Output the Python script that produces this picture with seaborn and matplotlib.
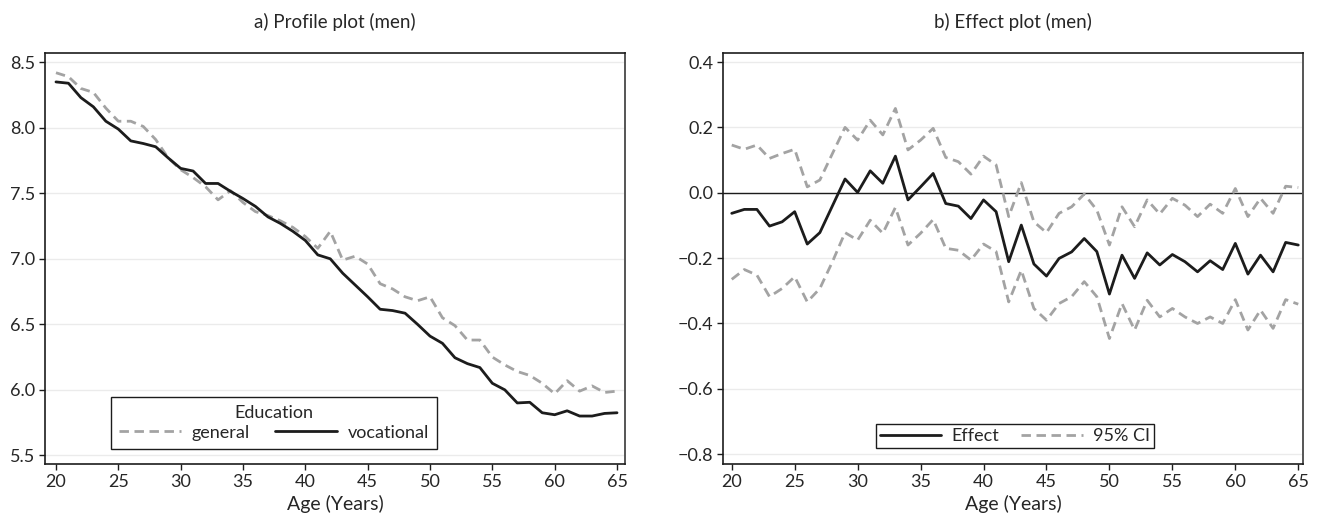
import numpy as np
import pandas as pd
import matplotlib
matplotlib.use('Agg')
import matplotlib.pyplot as plt
import seaborn as sns

# data
ages = list(range(20, 66))
general = [8.42, 8.39, 8.30, 8.27, 8.15, 8.05, 8.05, 8.01, 7.91, 7.77,
           7.68, 7.62, 7.55, 7.45, 7.52, 7.43, 7.36, 7.33, 7.29, 7.24,
           7.17, 7.08, 7.21, 6.99, 7.02, 6.96, 6.81, 6.77, 6.71, 6.68,
           6.71, 6.55, 6.49, 6.38, 6.38, 6.25, 6.19, 6.14, 6.11, 6.05,
           5.97, 6.07, 5.99, 6.03, 5.98, 5.99]
vocational = [8.35, 8.34, 8.23, 8.16, 8.05, 7.99, 7.90, 7.88, 7.855, 7.77,
              7.69, 7.67, 7.575, 7.575, 7.515, 7.46, 7.40, 7.32, 7.27, 7.21,
              7.14, 7.03, 7.00, 6.89, 6.80, 6.71, 6.615, 6.605, 6.585, 6.50,
              6.41, 6.355, 6.245, 6.20, 6.17, 6.05, 6.00, 5.90, 5.905, 5.825,
              5.81, 5.84, 5.80, 5.80, 5.82, 5.825]
effect = [-0.063, -0.051, -0.051, -0.102, -0.089, -0.058, -0.157, -0.122, -0.040, 0.042,
          0.001, 0.067, 0.029, 0.112, -0.022, 0.018, 0.059, -0.033, -0.041, -0.079,
          -0.022, -0.058, -0.211, -0.099, -0.218, -0.255, -0.201, -0.181, -0.140, -0.180,
          -0.310, -0.191, -0.262, -0.184, -0.221, -0.189, -0.211, -0.242, -0.208, -0.235,
          -0.155, -0.249, -0.191, -0.242, -0.152, -0.160]
ci_upper = [0.146, 0.133, 0.146, 0.105, 0.120, 0.133, 0.018, 0.039, 0.120, 0.200,
            0.161, 0.222, 0.177, 0.258, 0.131, 0.161, 0.197, 0.108, 0.095, 0.057,
            0.112, 0.085, -0.073, 0.031, -0.089, -0.122, -0.063, -0.043, -0.004, -0.053,
            -0.160, -0.043, -0.104, -0.022, -0.065, -0.017, -0.038, -0.073, -0.035, -0.063,
            0.013, -0.073, -0.017, -0.063, 0.020, 0.016]
ci_lower = [-0.265, -0.235, -0.252, -0.318, -0.293, -0.257, -0.334, -0.293, -0.211, -0.122,
            -0.145, -0.084, -0.124, -0.045, -0.160, -0.124, -0.082, -0.170, -0.176, -0.206,
            -0.157, -0.180, -0.334, -0.237, -0.354, -0.390, -0.339, -0.318, -0.272, -0.318,
            -0.446, -0.339, -0.420, -0.329, -0.380, -0.354, -0.380, -0.400, -0.380, -0.400,
            -0.327, -0.420, -0.359, -0.415, -0.327, -0.341]

x_ticks = [20, 25, 30, 35, 40, 45, 50, 55, 60, 65]
left_yticks = [5.5, 6.0, 6.5, 7.0, 7.5, 8.0, 8.5]
right_yticks = [-0.8, -0.6, -0.4, -0.2, 0.0, 0.2, 0.4]

sns.set_style('white')
plt.rcParams['font.family'] = ['Lato', 'DejaVu Sans']

BLACK = '#1c1c1c'
GRAY = '#a3a3a3'
DASH = (0, (3.4, 2.0))
LW = 2.0

df = pd.DataFrame({'age': ages, 'general': general, 'vocational': vocational,
                   'effect': effect, 'upper': ci_upper, 'lower': ci_lower})

fig = plt.figure(figsize=(13.18, 5.22), dpi=100)
ax1 = fig.add_axes([45 / 1318, 58 / 522, 580 / 1318, 411.3 / 522])
ax2 = fig.add_axes([723.3 / 1318, 58 / 522, 580 / 1318, 411.3 / 522])

# a) profile plot
sns.lineplot(data=df, x='age', y='general', ax=ax1, color=GRAY, linewidth=LW,
             linestyle=DASH, label='general')
sns.lineplot(data=df, x='age', y='vocational', ax=ax1, color=BLACK, linewidth=LW,
             label='vocational')
ax1.set_xlim(19.12, 65.64)
ax1.set_ylim(5.434, 8.573)
ax1.set_yticks(left_yticks)
ax1.set_yticklabels([f'{v:.1f}' for v in left_yticks])
leg1 = ax1.legend(title='Education', ncol=2, loc='lower center',
                  bbox_to_anchor=(0.395, 0.015), fontsize=13, title_fontsize=13,
                  handlelength=3.4, columnspacing=1.4, handletextpad=0.6,
                  borderpad=0.45, labelspacing=0.2, fancybox=False, framealpha=1)
ax1.set_title('a) Profile plot (men)', fontsize=13.5, pad=18)

# b) effect plot
ax2.axhline(0, color=BLACK, linewidth=1.0, zorder=1)
sns.lineplot(data=df, x='age', y='effect', ax=ax2, color=BLACK, linewidth=LW,
             label='Effect')
sns.lineplot(data=df, x='age', y='upper', ax=ax2, color=GRAY, linewidth=LW,
             linestyle=DASH, label='95% CI')
sns.lineplot(data=df, x='age', y='lower', ax=ax2, color=GRAY, linewidth=LW,
             linestyle=DASH, label='_nolegend_')
ax2.set_xlim(19.33, 65.4)
ax2.set_ylim(-0.830, 0.4285)
ax2.set_yticks(right_yticks)
ax2.set_yticklabels([f'{v:.1f}'.replace('-', '\u2212') for v in right_yticks])
leg2 = ax2.legend(ncol=2, loc='lower center', bbox_to_anchor=(0.503, 0.018),
                  fontsize=13, handlelength=3.4, columnspacing=1.2,
                  handletextpad=0.6, borderpad=0.2, fancybox=False, framealpha=1)
ax2.set_title('b) Effect plot (men)', fontsize=13.5, pad=18)

for ax, leg in [(ax1, leg1), (ax2, leg2)]:
    ax.set_xticks(x_ticks)
    ax.set_xlabel('Age (Years)', fontsize=14, labelpad=4)
    ax.set_ylabel('')
    ax.tick_params(axis='both', labelsize=13, length=4, width=1, color=BLACK,
                   direction='out', bottom=True, left=True, pad=3)
    ax.yaxis.grid(True, color='#ebebeb', linewidth=1.0)
    ax.xaxis.grid(False)
    ax.set_axisbelow(True)
    for side in ['left', 'bottom', 'top']:
        ax.spines[side].set_color(BLACK)
        ax.spines[side].set_linewidth(1.2)
    ax.spines['right'].set_color('#555555')
    ax.spines['right'].set_linewidth(1.4)
    fr = leg.get_frame()
    fr.set_edgecolor(BLACK)
    fr.set_linewidth(1.0)
    fr.set_boxstyle('square', pad=0)

plt.savefig('out.png', dpi=100)
plt.close()
